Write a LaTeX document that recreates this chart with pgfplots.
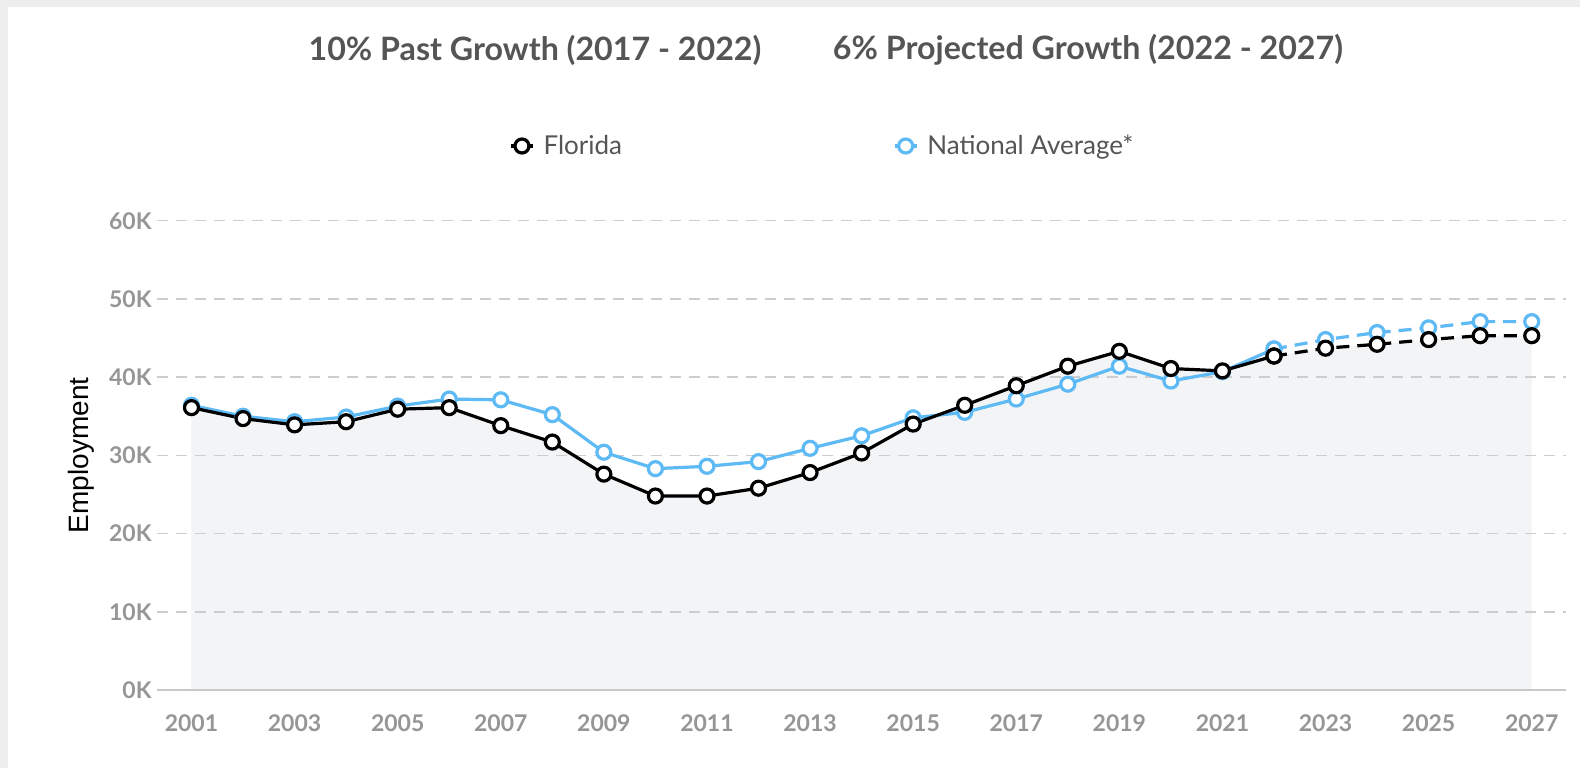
\documentclass[border=0pt]{standalone}
\usepackage{pgfplots}
\pgfplotsset{compat=1.18}
\usepackage{pgfplotstable}
\usepackage{fontspec}
\setmainfont{Lato}
\newfontfamily\labelfont{Liberation Sans}
\definecolor{natblue}{RGB}{94,186,245}
\definecolor{titlegray}{RGB}{85,85,85}
\definecolor{tickgray}{RGB}{150,150,150}
\definecolor{gridgray}{RGB}{205,205,205}
\definecolor{axisgray}{RGB}{200,200,200}
\definecolor{areagray}{RGB}{243,244,246}
\definecolor{bggray}{RGB}{238,238,238}

\pgfplotstableread{
year florida national
2001 36100 36400
2002 34700 35000
2003 33900 34300
2004 34300 34900
2005 35900 36300
2006 36100 37200
2007 33800 37100
2008 31700 35200
2009 27600 30400
2010 24800 28300
2011 24800 28600
2012 25800 29200
2013 27800 30900
2014 30300 32500
2015 34000 34800
2016 36400 35500
2017 38900 37200
2018 41400 39100
2019 43300 41400
2020 41100 39500
2021 40800 40700
2022 42700 43600
}\pastdata
\pgfplotstableread{
year florida national
2022 42700 43600
2023 43700 44800
2024 44200 45700
2025 44800 46300
2026 45300 47100
2027 45300 47100
}\projdata
\pgfplotstableread{
year florida
2001 36100
2002 34700
2003 33900
2004 34300
2005 35900
2006 36100
2007 33800
2008 31700
2009 27600
2010 24800
2011 24800
2012 25800
2013 27800
2014 30300
2015 34000
2016 36400
2017 38900
2018 41400
2019 43300
2020 41100
2021 40800
2022 42700
2023 43700
2024 44200
2025 44800
2026 45300
2027 45300
}\alldata

\pgfplotsset{common/.style={
  at={(78.5pt,39pt)}, anchor=south west,
  width=704.5pt, height=234.65pt, scale only axis,
  xmin=2000.331, xmax=2027.665,
  ymin=0, ymax=60000, clip=false}}

\begin{document}
\begin{tikzpicture}
\fill[bggray] (0pt,0pt) rectangle (790pt,384pt);
\fill[white] (4pt,0pt) rectangle (790pt,380.5pt);
\node[font=\fontsize{16.1}{18}\selectfont\bfseries, text=titlegray] at (267.5pt,359pt) {10\% Past Growth (2017 - 2022)};
\node[font=\fontsize{16.1}{18}\selectfont\bfseries, text=titlegray] at (544pt,359pt) {6\% Projected Growth (2022 - 2027)};
\begin{axis}[common, hide axis]
\addplot[fill=areagray, draw=none] table[x=year,y=florida] {\alldata} \closedcycle;
\end{axis}
\begin{axis}[
  common,
  axis x line*=bottom, axis y line*=left,
  x axis line style={draw=axisgray, line width=1pt},
  y axis line style={draw=none},
  major tick length=0pt,
  scaled y ticks=false,
  xtick={2001,2003,...,2027},
  xticklabels={2001,2003,2005,2007,2009,2011,2013,2015,2017,2019,2021,2023,2025,2027},
  ytick={0,10000,...,60000},
  yticklabels={0K,10K,20K,30K,40K,50K,60K},
  xticklabel style={font=\fontsize{11.5}{13}\selectfont\bfseries, text=tickgray, anchor=center, inner sep=0pt, yshift=-16.75pt},
  yticklabel style={font=\fontsize{11.5}{13}\selectfont\bfseries, text=tickgray, anchor=east, inner sep=0pt, xshift=-2.5pt},
  /pgf/number format/assume math mode=true,
  ymajorgrids,
  grid style={draw=gridgray, line width=0.75pt, dash pattern=on 5.5pt off 4pt},
  ylabel={\labelfont Employment},
  ylabel style={at={(axis description cs:-0.0539,0.5)}, anchor=center, font=\fontsize{14}{16}\selectfont, text=black},
  legend columns=2,
  reverse legend,
  legend style={at={(axis description cs:0.2498,1.1592)}, anchor=west, draw=none, fill=none,
    inner sep=0pt, font=\fontsize{13}{15}\selectfont, text=titlegray,
    /tikz/every even column/.append style={column sep=133.5pt},
    /tikz/every odd column/.append style={column sep=2.5pt}},
  legend cell align=left,
  legend image code/.code={\draw[mark repeat=2,mark phase=2] plot coordinates {(0pt,0pt) (5.5pt,0pt) (11pt,0pt)};},
]
\addplot[natblue, line width=1.6pt, mark=*, mark size=3.5pt, mark options={fill=white, draw=natblue, line width=1.6pt, solid}]
  table[x=year,y=national] {\pastdata};
\addlegendentry{National Average*}
\addplot[natblue, line width=1.6pt, dash pattern=on 6.5pt off 4pt, mark=*, mark size=3.5pt, mark options={fill=white, draw=natblue, line width=1.6pt, solid}, forget plot]
  table[x=year,y=national] {\projdata};

\addplot[black, line width=1.6pt, mark=*, mark size=3.5pt, mark options={fill=white, draw=black, line width=1.6pt, solid}]
  table[x=year,y=florida] {\pastdata};
\addlegendentry{Florida}
\addplot[black, line width=1.6pt, dash pattern=on 6.5pt off 4pt, mark=*, mark size=3.5pt, mark options={fill=white, draw=black, line width=1.6pt, solid}, forget plot]
  table[x=year,y=florida] {\projdata};
\end{axis}
\end{tikzpicture}
\end{document}
